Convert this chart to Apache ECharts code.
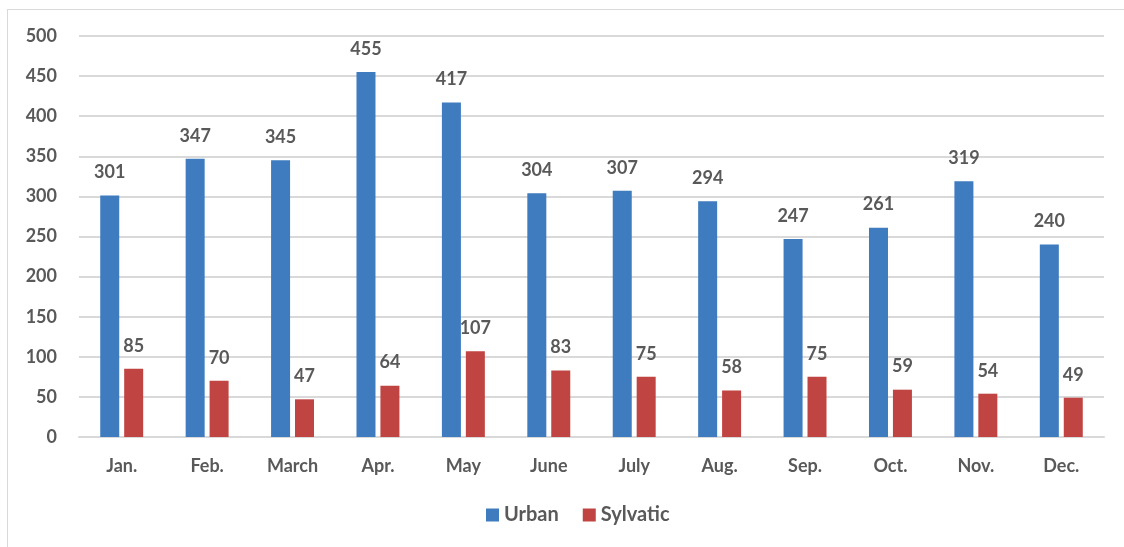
<!DOCTYPE html>
<html>
<head>
<meta charset="utf-8">
<script src="https://cdn.jsdelivr.net/npm/echarts@6/dist/echarts.min.js"></script>
<style>
html,body{margin:0;padding:0;background:#fff;}
#frame{position:absolute;left:7px;top:9px;width:1130px;height:550px;border:1px solid #d9d9d9;box-sizing:border-box;}
#main{position:absolute;left:0;top:0;width:1124px;height:547px;}
</style>
</head>
<body>
<div id="frame"></div>
<div id="main"></div>
<script>
var months = ['Jan.', 'Feb.', 'March', 'Apr.', 'May', 'June', 'July', 'Aug.', 'Sep.', 'Oct.', 'Nov.', 'Dec.'];
var urban = [301, 347, 345, 455, 417, 304, 307, 294, 247, 261, 319, 240];
var sylvatic = [85, 70, 47, 64, 107, 83, 75, 58, 75, 59, 54, 49];

var chart = echarts.init(document.getElementById('main'));
var fontFam = 'Lato, "Open Sans", sans-serif';
var labelStyle = {
    show: true,
    position: 'top',
    distance: 14,
    color: '#595959',
    fontWeight: 'bold',
    fontSize: 18,
    fontFamily: fontFam
};
var option = {
    animation: false,
    grid: {
        left: 79,
        right: 20,
        top: 36,
        bottom: 110
    },
    legend: {
        bottom: 17,
        left: 481,
        itemWidth: 13,
        itemHeight: 13,
        itemGap: 24,
        icon: 'rect',
        textStyle: {
            color: '#595959',
            fontWeight: 'bold',
            fontSize: 20,
            fontFamily: fontFam
        },
        data: ['Urban', 'Sylvatic']
    },
    xAxis: {
        type: 'category',
        data: months,
        axisLine: { lineStyle: { color: '#d9d9d9', width: 2 } },
        axisTick: { show: false },
        axisLabel: {
            margin: 20,
            color: '#595959',
            fontWeight: 'bold',
            fontSize: 18,
            fontFamily: fontFam
        }
    },
    yAxis: {
        type: 'value',
        min: 0,
        max: 500,
        interval: 50,
        axisLine: { show: false },
        axisTick: { show: false },
        splitLine: { lineStyle: { color: '#d9d9d9', width: 2 } },
        axisLabel: {
            margin: 22,
            color: '#595959',
            fontWeight: 'bold',
            fontSize: 18,
            fontFamily: fontFam
        }
    },
    series: [{
        name: 'Urban',
        type: 'bar',
        data: urban,
        barWidth: 19,
        barGap: '26%',
        itemStyle: { color: '#3e7bbf' },
        label: labelStyle
    }, {
        name: 'Sylvatic',
        type: 'bar',
        data: sylvatic,
        barWidth: 19,
        itemStyle: { color: '#c04442' },
        label: labelStyle
    }]
};
chart.setOption(option);
</script>
</body>
</html>
